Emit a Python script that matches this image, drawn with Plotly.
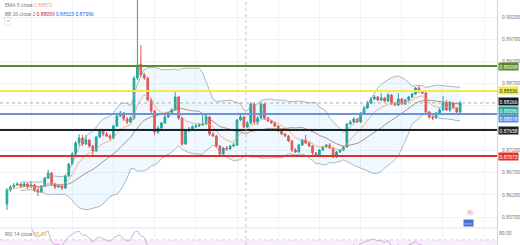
import plotly.graph_objects as go
import pandas as pd

opens = [0.85993,0.86308,0.86376,0.86421,0.86443,0.86398,0.86443,0.86376,0.86421,0.86308,
0.86263,0.86398,0.86578,0.86691,0.86443,0.86376,0.86398,0.86353,0.86623,0.86893,
0.87118,0.87366,0.87478,0.87343,0.87433,0.87298,0.87186,0.87501,0.87636,0.87568,
0.87523,0.87478,0.87748,0.87973,0.88041,0.87906,0.87838,0.87928,0.88828,0.89143,
0.88896,0.88828,0.88333,0.88086,0.87613,0.87703,0.87816,0.87951,0.88018,0.88108,
0.88401,0.87928,0.87343,0.87636,0.87681,0.87726,0.87748,0.87771,0.87793,0.87951,
0.87568,0.87523,0.87298,0.87118,0.87253,0.87231,0.87298,0.87321,0.87883,0.87951,
0.87726,0.87816,0.88243,0.87838,0.87928,0.88243,0.87928,0.87861,0.87816,0.87748,
0.87636,0.87568,0.87523,0.87411,0.87208,0.87163,0.87321,0.87433,0.87366,0.87298,
0.87141,0.87073,0.87208,0.87276,0.87321,0.87253,0.87051,0.87163,0.87208,0.87276,
0.87793,0.87838,0.87906,0.87838,0.88041,0.88153,0.88266,0.88356,0.88401,0.88333,
0.88378,0.88311,0.88446,0.88266,0.88221,0.88356,0.88243,0.88333,0.88401,0.88468,
0.88603,0.88513,0.88491,0.88063,0.87951,0.87928,0.88041,0.88108,0.88266,0.88108,
0.88266,0.88153,0.88063]
closes = [0.86308,0.86376,0.86421,0.86443,0.86398,0.86443,0.86376,0.86421,0.86308,0.86263,
0.86398,0.86578,0.86691,0.86443,0.86376,0.86398,0.86353,0.86623,0.86893,0.87118,
0.87366,0.87478,0.87343,0.87433,0.87298,0.87186,0.87501,0.87636,0.87568,0.87523,
0.87478,0.87748,0.87973,0.88041,0.87906,0.87838,0.87928,0.88828,0.89121,0.88896,
0.88828,0.88333,0.88086,0.87613,0.87703,0.87816,0.87951,0.88018,0.88108,0.88401,
0.87928,0.87343,0.87636,0.87681,0.87726,0.87748,0.87771,0.87793,0.87951,0.87568,
0.87523,0.87298,0.87118,0.87253,0.87231,0.87298,0.87321,0.87883,0.87951,0.87726,
0.87816,0.88243,0.87838,0.87928,0.88243,0.87928,0.87861,0.87816,0.87748,0.87636,
0.87568,0.87523,0.87411,0.87208,0.87163,0.87321,0.87433,0.87366,0.87298,0.87141,
0.87073,0.87208,0.87276,0.87321,0.87253,0.87051,0.87163,0.87208,0.87276,0.87793,
0.87838,0.87906,0.87838,0.88041,0.88153,0.88266,0.88356,0.88401,0.88333,0.88378,
0.88311,0.88446,0.88266,0.88221,0.88356,0.88243,0.88333,0.88401,0.88468,0.88603,
0.88513,0.88491,0.88063,0.87951,0.87928,0.88041,0.88108,0.88266,0.88108,0.88266,
0.88153,0.88063,0.88266]
highs = [0.86353,0.86421,0.86466,0.86488,0.86466,0.86488,0.86466,0.86511,0.86443,0.86353,
0.86421,0.86601,0.86758,0.86713,0.86466,0.86443,0.86443,0.86646,0.86916,0.87163,
0.87411,0.87568,0.87546,0.87546,0.87456,0.87321,0.87523,0.87681,0.87658,0.87613,
0.87568,0.87771,0.88018,0.88086,0.88063,0.87951,0.87973,0.88873,0.91033,0.89571,
0.88941,0.88851,0.88378,0.88108,0.87748,0.87838,0.87996,0.88063,0.88153,0.88513,
0.88423,0.87951,0.87658,0.87726,0.87771,0.87793,0.87816,0.87996,0.87996,0.87973,
0.87613,0.87546,0.87321,0.87276,0.87298,0.87321,0.87366,0.87906,0.87996,0.87973,
0.87861,0.88288,0.88266,0.87973,0.88288,0.88266,0.87951,0.87883,0.87838,0.87771,
0.87658,0.87591,0.87546,0.87433,0.87253,0.87343,0.87456,0.87546,0.87388,0.87321,
0.87163,0.87231,0.87298,0.87343,0.87366,0.87276,0.87186,0.87231,0.87298,0.87816,
0.87883,0.87951,0.87928,0.88063,0.88198,0.88311,0.88401,0.88446,0.88423,0.88491,
0.88401,0.88491,0.88468,0.88288,0.88491,0.88378,0.88356,0.88423,0.88491,0.88626,
0.88648,0.88536,0.88513,0.88086,0.87973,0.88063,0.88153,0.88423,0.88333,0.88311,
0.88288,0.88176,0.88311]
lows = [0.85858,0.86263,0.86353,0.86398,0.86353,0.86376,0.86331,0.86353,0.86263,0.86173,
0.86241,0.86376,0.86556,0.86398,0.86331,0.86353,0.86308,0.86331,0.86601,0.86871,
0.87096,0.87298,0.87298,0.87321,0.87253,0.87096,0.87163,0.87478,0.87523,0.87501,
0.87433,0.87456,0.87726,0.87951,0.87861,0.87793,0.87816,0.87883,0.88783,0.88851,
0.88783,0.88311,0.88041,0.87546,0.87568,0.87681,0.87793,0.87928,0.87996,0.88086,
0.87883,0.87298,0.87321,0.87613,0.87658,0.87703,0.87726,0.87748,0.87771,0.87523,
0.87501,0.87253,0.87073,0.87096,0.87186,0.87208,0.87276,0.87298,0.87861,0.87703,
0.87703,0.87793,0.87793,0.87771,0.87906,0.87883,0.87838,0.87793,0.87726,0.87613,
0.87546,0.87501,0.87388,0.87163,0.87141,0.87141,0.87298,0.87343,0.87276,0.87096,
0.87051,0.87051,0.87186,0.87253,0.87231,0.87028,0.87028,0.87141,0.87186,0.87253,
0.87771,0.87816,0.87816,0.87816,0.88018,0.88131,0.88243,0.88333,0.88311,0.88311,
0.88288,0.88288,0.88221,0.88198,0.88198,0.88221,0.88221,0.88311,0.88378,0.88446,
0.88491,0.88468,0.88018,0.87906,0.87883,0.87906,0.88018,0.88086,0.88086,0.88063,
0.88131,0.88041,0.88018]

level_prices = [0.89098, 0.88536, 0.88018, 0.87658, 0.87073]
level_colors = ["#5b8a2d", "#f3ea4a", "#6a93d8", "#1c2526", "#e0302c"]
level_label_bg = ["#5b8a2d", "#f3ea4a", "#5b8fdc", "#1c2526", "#e0302c"]
level_label_fg = ["white", "#333333", "white", "white", "white"]
level_label_shift = [0, 0, -4, 0, 0]

tick_vals = [0.90200, 0.89700, 0.89200, 0.88700, 0.88200, 0.87700, 0.87200, 0.86700, 0.86200, 0.85700]
tick_text = ["0.90200", "0.89700", "0.89200", "0.88700", "", "", "0.87200", "0.86700", "0.86200", "0.85700"]
rsi_tick_vals = [80.0]
rsi_tick_text = ["80.00"]

idx = list(range(len(closes)))
s = pd.Series(closes)
ema9 = s.ewm(span=9, adjust=False).mean()
basis = s.rolling(20, min_periods=5).mean()
sd = s.rolling(20, min_periods=5).std(ddof=0)
upper = basis + 2 * sd
lower = basis - 2 * sd
delta = s.diff()
gain = delta.clip(lower=0).ewm(alpha=1/14, adjust=False).mean()
loss = (-delta.clip(upper=0)).ewm(alpha=1/14, adjust=False).mean()
rsi = 100 - 100 / (1 + gain / loss)

W, H = 520, 245
PLOT_W = 499
main_bottom = 1 - 228 / H

fig = go.Figure()
fig.add_trace(go.Scatter(x=idx, y=upper, mode="lines", line=dict(color="#9aa3ad", width=0.8),
                         hoverinfo="skip", showlegend=False))
fig.add_trace(go.Scatter(x=idx, y=lower, mode="lines", line=dict(color="#9aa3ad", width=0.8),
                         fill="tonexty", fillcolor="rgba(33,150,243,0.07)", hoverinfo="skip", showlegend=False))
fig.add_trace(go.Scatter(x=idx, y=basis, mode="lines", line=dict(color="#9c7a6a", width=0.8),
                         hoverinfo="skip", showlegend=False))
fig.add_trace(go.Scatter(x=idx, y=ema9, mode="lines", line=dict(color="#f5a26a", width=0.8),
                         hoverinfo="skip", showlegend=False))
fig.add_trace(go.Candlestick(x=idx, open=opens, high=highs, low=lows, close=closes,
                             increasing=dict(line=dict(color="#26a69a", width=1), fillcolor="#26a69a"),
                             decreasing=dict(line=dict(color="#ef5350", width=1), fillcolor="#ef5350"),
                             whiskerwidth=0, showlegend=False))

# RSI pane
fig.add_trace(go.Scatter(x=idx, y=rsi, mode="lines", line=dict(color="#c89ad8", width=0.8),
                         yaxis="y2", hoverinfo="skip", showlegend=False))

x0, x1 = -2.03, 142.73
for p, c in zip(level_prices, level_colors):
    fig.add_shape(type="line", xref="paper", x0=0, x1=1, yref="y", y0=p, y1=p,
                  line=dict(color=c, width=2))
fig.add_shape(type="line", xref="paper", x0=0, x1=1, yref="y", y0=closes[-1], y1=closes[-1],
              line=dict(color="#9598a1", width=0.8, dash="dot"))
fig.add_shape(type="line", xref="x", x0=69.6, x1=69.6, yref="paper", y0=0, y1=1,
              line=dict(color="#b0b4bc", width=0.8, dash="dot"))
fig.add_shape(type="rect", xref="paper", x0=0, x1=1, yref="y2", y0=30, y1=70,
              fillcolor="rgba(156,39,176,0.08)", line=dict(width=0), layer="below")
fig.add_shape(type="line", xref="paper", x0=0, x1=1, yref="y2", y0=70, y1=70,
              line=dict(color="#c9b3d6", width=0.6, dash="dot"))
fig.add_shape(type="line", xref="paper", x0=0, x1=1, yref="paper", y0=main_bottom, y1=main_bottom,
              line=dict(color="#e0e3eb", width=1))

ann = []
for p, bg, fg, sh in zip(level_prices, level_label_bg, level_label_fg, level_label_shift):
    ann.append(dict(x=1, xref="paper", xanchor="left", y=p, yref="y", yanchor="middle", text=f"{p:.5f}",
                    showarrow=False, bgcolor=bg, font=dict(size=5, color=fg, family="Roboto"),
                    borderpad=0.5, xshift=1, yshift=sh))
ann.append(dict(x=1, xref="paper", xanchor="left", y=closes[-1], yref="y", yanchor="middle",
                text=f"{closes[-1]:.5f}", showarrow=False, bgcolor="#131722",
                font=dict(size=5, color="white", family="Roboto"), borderpad=0.5, xshift=1, yshift=1))
ann.append(dict(x=1, xref="paper", xanchor="left", y=0.88086, yref="y", yanchor="middle", text="0.88086",
                showarrow=False, bgcolor="#26a69a", font=dict(size=5, color="white", family="Roboto"),
                borderpad=0.5, xshift=1))
ann.append(dict(x=3 / PLOT_W, xref="paper", xanchor="left", y=1 - 5 / H, yref="paper", yanchor="middle",
                text="EMA 9 close <span style='color:#f5a26a'>0.88873</span>", showarrow=False,
                font=dict(size=5, color="#787b86", family="Roboto")))
ann.append(dict(x=3 / PLOT_W, xref="paper", xanchor="left", y=1 - 14 / H, yref="paper", yanchor="middle",
                text="BB 20 close 2 <span style='color:#c2185b'>0.88059</span> <span style='color:#2962ff'>0.88523</span> <span style='color:#2962ff'>0.87596</span>",
                showarrow=False, font=dict(size=5, color="#787b86", family="Roboto")))
ann.append(dict(x=4 / PLOT_W, xref="paper", xanchor="left", y=1 - 21 / H, yref="paper", yanchor="middle",
                text="⌃", showarrow=False, bordercolor="#d1d4dc", borderwidth=0.5, borderpad=1,
                font=dict(size=5, color="#555", family="Roboto")))
ann.append(dict(x=3 / PLOT_W, xref="paper", xanchor="left", y=1 - 234 / H, yref="paper", yanchor="middle",
                text="RSI 14 close <span style='color:#f5a623'>55.45</span>", showarrow=False,
                font=dict(size=5, color="#787b86", family="Roboto")))
ann.append(dict(x=472 / PLOT_W, xref="paper", xanchor="center", y=1 - 213 / H, yref="paper", yanchor="middle",
                text="ⓔ", showarrow=False, font=dict(size=6, color="#d46a8a")))
ann.append(dict(x=470 / PLOT_W, xref="paper", xanchor="center", y=1 - 223 / H, yref="paper", yanchor="middle",
                text="●●●", showarrow=False, bgcolor="#4a6fd4", font=dict(size=4, color="#9fb8f0"), borderpad=0.5))

fig.update_layout(
    width=W, height=H, margin=dict(l=0, r=W - PLOT_W, t=0, b=0),
    paper_bgcolor="white", plot_bgcolor="white",
    annotations=ann,
    xaxis=dict(range=[x0, x1], rangeslider=dict(visible=False), showticklabels=False,
               showgrid=True, gridcolor="#f0f3fa", gridwidth=1, tick0=7, dtick=12, zeroline=False,
               fixedrange=True),
    yaxis=dict(domain=[main_bottom, 1], range=[0.85453, 0.90583], side="right",
               tickvals=tick_vals, ticktext=tick_text,
               tickfont=dict(size=5, color="#787b86", family="Roboto"),
               showgrid=True, gridcolor="#f0f3fa", zeroline=False, showline=True,
               linecolor="#d1d4dc", linewidth=1, ticks="", ticklabelstandoff=3),
    yaxis2=dict(domain=[0, main_bottom], range=[62.7, 87], side="right",
                tickvals=rsi_tick_vals, ticktext=rsi_tick_text,
                tickfont=dict(size=5, color="#787b86", family="Roboto"),
                showgrid=False, zeroline=False, showline=True, linecolor="#d1d4dc", linewidth=1, ticks=""),
    showlegend=False,
)
fig.write_html("out.html")
